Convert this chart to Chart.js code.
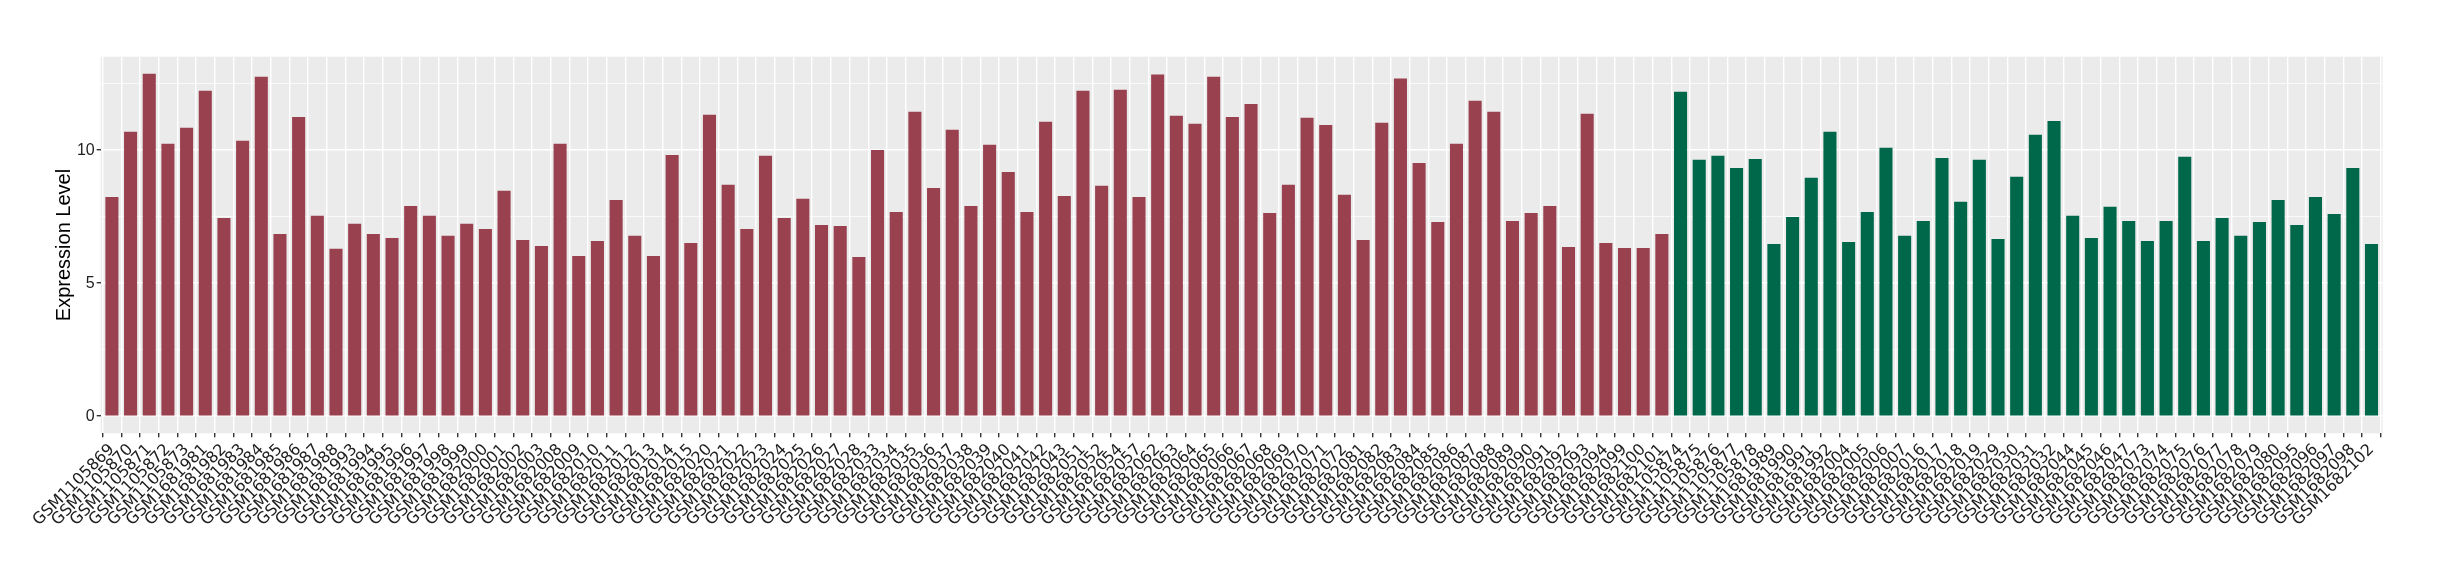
<!DOCTYPE html>
<html>
<head>
<meta charset="utf-8">
<script src="https://cdn.jsdelivr.net/npm/chart.js@4.4.1/dist/chart.umd.min.js"></script>
<style>
  html, body { margin: 0; padding: 0; background: #ffffff; }
  canvas { display: block; }
</style>
</head>
<body>
<canvas id="chart" width="2440" height="580"></canvas>
<script>
// ---- Data ----
const redLabels = [
  "GSM1105869","GSM1105870","GSM1105871","GSM1105872","GSM1105873",
  "GSM1681981","GSM1681982","GSM1681983","GSM1681984","GSM1681985","GSM1681986","GSM1681987","GSM1681988",
  "GSM1681993","GSM1681994","GSM1681995","GSM1681996","GSM1681997","GSM1681998","GSM1681999",
  "GSM1682000","GSM1682001","GSM1682002","GSM1682003",
  "GSM1682008","GSM1682009","GSM1682010","GSM1682011","GSM1682012","GSM1682013","GSM1682014","GSM1682015",
  "GSM1682020","GSM1682021","GSM1682022","GSM1682023","GSM1682024","GSM1682025","GSM1682026","GSM1682027","GSM1682028",
  "GSM1682033","GSM1682034","GSM1682035","GSM1682036","GSM1682037","GSM1682038","GSM1682039","GSM1682040","GSM1682041","GSM1682042","GSM1682043",
  "GSM1682051","GSM1682052","GSM1682054","GSM1682057",
  "GSM1682062","GSM1682063","GSM1682064","GSM1682065","GSM1682066","GSM1682067","GSM1682068","GSM1682069","GSM1682070","GSM1682071","GSM1682072",
  "GSM1682081","GSM1682082","GSM1682083","GSM1682084","GSM1682085","GSM1682086","GSM1682087","GSM1682088","GSM1682089","GSM1682090","GSM1682091","GSM1682092","GSM1682093","GSM1682094",
  "GSM1682099","GSM1682100","GSM1682101"
];
const redValues = [
  8.24,10.69,12.87,10.24,10.84,
  12.23,7.45,10.35,12.76,6.85,11.25,7.53,6.29,
  7.23,6.85,6.70,7.90,7.53,6.78,7.23,
  7.04,8.47,6.62,6.40,
  10.24,6.02,6.59,8.13,6.78,6.02,9.82,6.51,
  11.33,8.70,7.04,9.79,7.45,8.17,7.19,7.15,5.98,
  10.01,7.68,11.44,8.58,10.77,7.90,10.20,9.18,7.68,11.07,8.28,
  12.23,8.66,12.27,8.24,
  12.84,11.29,10.99,12.76,11.25,11.74,7.64,8.70,11.22,10.95,8.32,
  6.62,11.03,12.69,9.52,7.30,10.24,11.86,11.44,7.34,7.64,7.90,6.36,11.37,6.51,
  6.32,6.32,6.85
];
const greenLabels = [
  "GSM1105874","GSM1105875","GSM1105876","GSM1105877","GSM1105878",
  "GSM1681989","GSM1681990","GSM1681991","GSM1681992",
  "GSM1682004","GSM1682005","GSM1682006","GSM1682007",
  "GSM1682016","GSM1682017","GSM1682018","GSM1682019",
  "GSM1682029","GSM1682030","GSM1682031","GSM1682032",
  "GSM1682044","GSM1682045","GSM1682046","GSM1682047",
  "GSM1682073","GSM1682074","GSM1682075","GSM1682076","GSM1682077","GSM1682078","GSM1682079","GSM1682080",
  "GSM1682095","GSM1682096","GSM1682097","GSM1682098","GSM1682102"
];
const greenValues = [
  12.20,9.64,9.79,9.33,9.67,
  6.47,7.49,8.96,10.69,
  6.55,7.68,10.09,6.78,
  7.34,9.71,8.06,9.64,
  6.66,9.00,10.58,11.10,
  7.53,6.70,7.87,7.34,
  6.59,7.34,9.75,6.59,7.45,6.78,7.30,8.13,
  7.19,8.24,7.60,9.33,6.47
];
const yTickValues = [0, 2.5, 5, 7.5, 10, 12.5];

// ---- Derived ----
const allLabels = redLabels.concat(greenLabels);
const redData = redValues.map((v, i) => ({ x: i, y: v }));
const greenData = greenValues.map((v, i) => ({ x: redLabels.length + i, y: v }));
const maxVal = Math.max(...redValues, ...greenValues);
const pad = maxVal * 0.05;

const panelBg = {
  id: 'panelBg',
  beforeDraw(chart) {
    const { ctx, chartArea: a } = chart;
    ctx.save();
    ctx.fillStyle = '#EBEBEB';
    ctx.fillRect(a.left, a.top, a.right - a.left, a.bottom - a.top);
    ctx.restore();
  }
};

new Chart(document.getElementById('chart'), {
  type: 'bar',
  data: {
    datasets: [
      { data: redData, backgroundColor: '#9A4150', borderWidth: 0, grouped: false, barPercentage: 0.7, categoryPercentage: 1.0 },
      { data: greenData, backgroundColor: '#00684A', borderWidth: 0, grouped: false, barPercentage: 0.7, categoryPercentage: 1.0 }
    ]
  },
  options: {
    responsive: false,
    animation: false,
    devicePixelRatio: 1,
    layout: { padding: { top: 56.7, right: 57.3, left: 0, bottom: 0 } },
    plugins: { legend: { display: false }, tooltip: { enabled: false } },
    scales: {
      x: {
        type: 'linear',
        min: -0.6,
        max: allLabels.length - 1 + 0.6,
        offset: false,
        border: { display: false },
        afterBuildTicks: (s) => { s.ticks = allLabels.map((_, i) => ({ value: i })); },
        afterFit: (s) => { s.height = 580 - 433.3; },
        grid: { color: '#FFFFFF', lineWidth: 1.4, tickColor: '#333333', tickLength: 4, drawTicks: true },
        ticks: {
          autoSkip: false,
          minRotation: 45,
          maxRotation: 45,
          padding: 3,
          color: '#1E1E1E',
          font: { family: "'DejaVu Sans'", size: 16 },
          callback: (v) => allLabels[v]
        }
      },
      y: {
        min: -pad,
        max: maxVal + pad,
        border: { display: false },
        afterBuildTicks: (s) => { s.ticks = yTickValues.map(v => ({ value: v })); },
        afterFit: (s) => { s.width = 100.7; },
        grid: {
          color: '#FFFFFF',
          lineWidth: (c) => (c.tick && c.tick.value % 5 === 0) ? 1.4 : 0.7,
          tickColor: (c) => (c.tick && c.tick.value % 5 === 0) ? '#333333' : 'rgba(0,0,0,0)',
          tickLength: 4
        },
        ticks: {
          padding: 2,
          color: '#1E1E1E',
          font: { family: "'Liberation Sans'", size: 16 },
          callback: (v) => (v % 5 === 0 ? String(v) : '')
        },
        title: {
          display: true,
          text: 'Expression Level',
          color: '#000000',
          font: { family: "'Liberation Sans'", size: 20 },
          padding: { top: 52.7, bottom: 0 }
        }
      }
    }
  },
  plugins: [panelBg]
});
</script>
</body>
</html>
